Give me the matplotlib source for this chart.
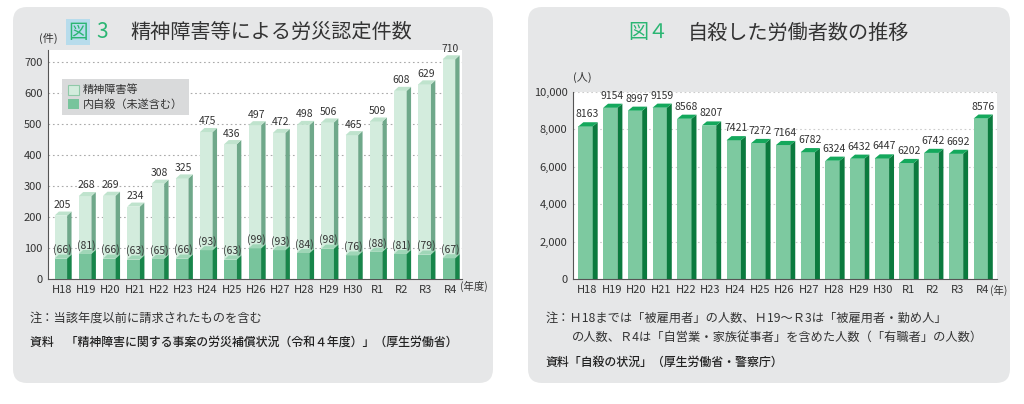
import matplotlib.pyplot as plt
import numpy as np
from matplotlib.patches import FancyBboxPatch, Polygon

plt.rcParams['font.family'] = ['Noto Sans CJK JP', 'DejaVu Sans']

years = ['H18', 'H19', 'H20', 'H21', 'H22', 'H23', 'H24', 'H25', 'H26',
         'H27', 'H28', 'H29', 'H30', 'R1', 'R2', 'R3', 'R4']
mental = [205, 268, 269, 234, 308, 325, 475, 436, 497, 472, 498, 506, 465, 509, 608, 629, 710]
suicide_in = [66, 81, 66, 63, 65, 66, 93, 63, 99, 93, 84, 98, 76, 88, 81, 79, 67]
workers = [8163, 9154, 8997, 9159, 8568, 8207, 7421, 7272, 7164, 6782, 6324, 6432, 6447,
           6202, 6742, 6692, 8576]

txt = '#333333'
green = '#2bb673'


def bar3d(ax, x, h, w, d, dy, face, side, top, z=2):
    # front face + dark side + top cap
    ax.bar(x, h, w, color=face, zorder=z, linewidth=0)
    r = x + w / 2
    ax.add_patch(Polygon([(r, 0), (r + d, 0), (r + d, h + dy), (r, h)],
                         closed=True, color=side, zorder=z, linewidth=0))
    l = x - w / 2
    ax.add_patch(Polygon([(l, h), (r, h), (r + d, h + dy), (l + d, h + dy)],
                         closed=True, color=top, zorder=z, linewidth=0))


fig = plt.figure(figsize=(10.24, 4.04), dpi=100)

# grey rounded panels
for x0, x1 in [(13, 493), (528, 1010)]:
    fig.patches.append(FancyBboxPatch((x0 / 100, 0.21), (x1 - x0) / 100, 3.76,
                                      boxstyle='round,pad=0,rounding_size=0.14',
                                      transform=fig.dpi_scale_trans,
                                      facecolor='#e6e7e8', edgecolor='none', zorder=-5))

x = np.arange(len(years))

# ---- left chart
ax1 = fig.add_axes([48 / 1024, 1 - 279 / 404, 414 / 1024, 229 / 404], zorder=2)
ax1.set_xlim(-0.58, 16.49)
ax1.set_ylim(0, 740)
for i in range(len(years)):
    bar3d(ax1, x[i] - 0.05, mental[i], 0.52, 0.18, 13, '#d3ecdd', '#6fa88a', '#bfe3cd')
    bar3d(ax1, x[i] - 0.05, suicide_in[i], 0.52, 0.18, 13, '#78c49c', '#17854a', '#9fd6b7', z=3)
    ax1.text(x[i], mental[i] + 18, str(mental[i]), ha='center', va='bottom',
             fontsize=7.5, color=txt, clip_on=False)
    ax1.text(x[i], suicide_in[i] + 28, '(%d)' % suicide_in[i], ha='center',
             va='center', fontsize=7.5, color=txt, zorder=5)
ax1.set_yticks(range(0, 701, 100))
ax1.yaxis.grid(True, linestyle=(0, (1.5, 2.5)), color='#aaaaaa', linewidth=0.8)
ax1.set_axisbelow(True)
ax1.set_xticks(x)
ax1.set_xticklabels(years)
ax1.tick_params(length=0, labelsize=8, colors=txt, pad=4)
for s in ['top', 'right']:
    ax1.spines[s].set_visible(False)
for s in ['left', 'bottom']:
    ax1.spines[s].set_color('#555555')
ax1.text(16.4, -23, '(年度)', ha='left', va='center', fontsize=7.5, color=txt, clip_on=False)
ax1.text(-0.55, 760, '(件)', ha='center', va='bottom', fontsize=8, color=txt, clip_on=False)
h1 = ax1.bar([0], [0], color='#d3ecdd', edgecolor='#8fc9a8', linewidth=0.8)
h2 = ax1.bar([0], [0], color='#78c49c', linewidth=0)
leg = ax1.legend([h1, h2], ['精神障害等', '内自殺（未遂含む）'], loc='upper left',
                 bbox_to_anchor=(0.034, 0.873), borderaxespad=0, fontsize=8, frameon=True,
                 fancybox=False, handlelength=1.0, handleheight=1.0, handletextpad=0.4,
                 borderpad=0.5, labelspacing=0.3)
leg.get_frame().set_facecolor('#d9dadb')
leg.get_frame().set_edgecolor('none')
leg.get_frame().set_alpha(1)
for t in leg.get_texts():
    t.set_color(txt)

fig.text(78 / 1024, 1 - 32 / 404, '図', fontsize=14, color=green, ha='center', va='center',
         bbox=dict(facecolor='#b7dcec', edgecolor='none', pad=1.5))
fig.text(102 / 1024, 1 - 32 / 404, '3', fontsize=15, color=green, ha='center', va='center')
fig.text(130 / 1024, 1 - 32 / 404, '精神障害等による労災認定件数', fontsize=14.5, color=txt,
         ha='left', va='center')
fig.text(30 / 1024, 1 - 318 / 404, '注：当該年度以前に請求されたものを含む', fontsize=8.8,
         color=txt, ha='left', va='center')
fig.text(30 / 1024, 1 - 342 / 404,
         '資料　「精神障害に関する事案の労災補償状況（令和４年度）」（厚生労働省）',
         fontsize=8.6, color='#222222', ha='left', va='center', fontweight='medium')

# ---- right chart
ax2 = fig.add_axes([573 / 1024, 1 - 279 / 404, 424 / 1024, 187 / 404], zorder=2)
ax2.set_xlim(-0.57, 16.6)
ax2.set_ylim(0, 10000)
for i in range(len(years)):
    bar3d(ax2, x[i] - 0.06, workers[i], 0.58, 0.2, 220, '#7dc9a0', '#0b7a3e', '#14a85c')
    ax2.text(x[i] + 0.02, workers[i] + 380, str(workers[i]), ha='center', va='bottom',
             fontsize=7.5, color=txt, clip_on=False)
ax2.set_yticks(range(0, 10001, 2000))
ax2.set_yticklabels(['{:,}'.format(v) for v in range(0, 10001, 2000)])
ax2.yaxis.grid(True, linestyle=(0, (1.5, 2.5)), color='#cccccc', linewidth=0.8)
ax2.set_axisbelow(True)
ax2.set_xticks(x)
ax2.set_xticklabels(years)
ax2.tick_params(length=0, labelsize=8, colors=txt, pad=4)
for s in ['top', 'right']:
    ax2.spines[s].set_visible(False)
for s in ['left', 'bottom']:
    ax2.spines[s].set_color('#555555')
ax2.text(16.3, -620, '(年)', ha='left', va='center', fontsize=7.5, color=txt, clip_on=False)
ax2.text(-0.2, 10500, '(人)', ha='center', va='bottom', fontsize=8, color=txt, clip_on=False)

fig.text(648 / 1024, 1 - 33 / 404, '図４', fontsize=14.5, color=green, ha='center', va='center')
fig.text(688 / 1024, 1 - 33 / 404, '自殺した労働者数の推移', fontsize=14.5, color=txt,
         ha='left', va='center')
fig.text(546 / 1024, 1 - 318 / 404,
         '注：Ｈ18までは「被雇用者」の人数、Ｈ19～Ｒ3は「被雇用者・勤め人」',
         fontsize=8.8, color=txt, ha='left', va='center')
fig.text(572 / 1024, 1 - 337 / 404,
         'の人数、Ｒ4は「自営業・家族従事者」を含めた人数（「有職者」の人数）',
         fontsize=8.8, color=txt, ha='left', va='center')
fig.text(546 / 1024, 1 - 362 / 404, '資料「自殺の状況」（厚生労働省・警察庁）',
         fontsize=8.6, color='#222222', ha='left', va='center', fontweight='medium')

fig.savefig('out.png', dpi=100, facecolor='white')
